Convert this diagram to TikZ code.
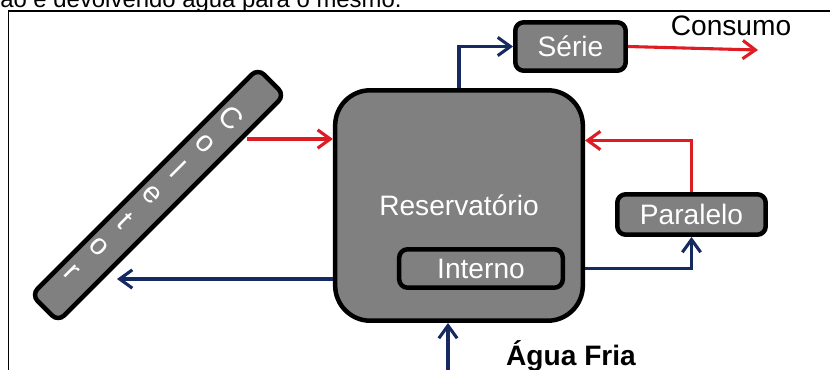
\documentclass[tikz,border=0pt]{standalone}
\usepackage{fontspec}
\setmainfont{Liberation Sans}
\usetikzlibrary{arrows.meta, calc}
\definecolor{cinza}{RGB}{128,128,128}
\definecolor{vermelho}{RGB}{222,28,36}
\definecolor{azul}{RGB}{20,42,96}

\begin{document}
\begin{tikzpicture}[x=0.025cm, y=-0.025cm,
    caixa/.style={draw=black, line width=3.2pt, fill=cinza, text=white, rounded corners=6pt,
        font=\fontsize{20}{24}\selectfont, inner sep=0pt},
    quente/.style={draw=vermelho, line width=2.2pt, -{Straight Barb[length=9pt,width=13pt]}},
    fria/.style={draw=azul, line width=2.2pt, -{Straight Barb[length=9pt,width=13pt]}},
    letra/.style={text=white, font=\fontsize{21}{23}\selectfont, rotate=-45, inner sep=0pt}]
\useasboundingbox (0,0) rectangle (830,369);
\clip (0,0) rectangle (830,369);

\node[anchor=base west, inner sep=0pt, font=\fontsize{17}{20}\selectfont] (topo) at (0,7) {ão e devolvendo água para o mesmo.};
\draw[black, line width=1.4pt] (8.5,380) -- (8.5,11) -- (832,11);

% coletor
\node[caixa, rotate=45, minimum width=8.0cm, minimum height=0.94cm] (col) at (158,195) {};
\foreach \l [count=\i] in {C,o,l,e,t,o,r}
    \node[letra] at ({231-26.5*(\i-1)},{118+25.7*(\i-1)}) {\l};

\node[caixa, rounded corners=25pt, minimum width=6.19cm, minimum height=5.76cm] (res) at (459,205.5) {Reservatório};
\node[caixa, minimum width=4.09cm, minimum height=0.96cm] (int) at (481,268.5) {Interno};
\node[caixa, minimum width=2.76cm, minimum height=1.21cm] (serie) at (570.5,46.5) {Série};
\node[caixa, minimum width=3.71cm, minimum height=1.01cm] (par) at (691.5,214.5) {Paralelo};

\node[anchor=base, font=\fontsize{20}{24}\selectfont] (cons) at (731,35) {Consumo};
\node[anchor=base, font=\bfseries\fontsize{20}{24}\selectfont] (agua) at (571,365) {Água Fria};

\coordinate (colq) at (247,139);
\coordinate (colf) at (117,279);
\coordinate (saida) at (758,50);
\coordinate (entrada) at (448,380);

\draw[quente] (colq) -- (colq -| res.west);
\draw[fria] (colf -| res.west) -- (colf);
\draw[fria] (res.north) |- (serie.west);
\draw[quente] (serie.east) -- (saida);
\draw[quente] (par.north) |- ($(res.east)+(0,-65)$);
\draw[fria] (res.east |- int.east) -| (par.south);
\draw[fria] (entrada) -- (entrada |- res.south);
\end{tikzpicture}
\end{document}
